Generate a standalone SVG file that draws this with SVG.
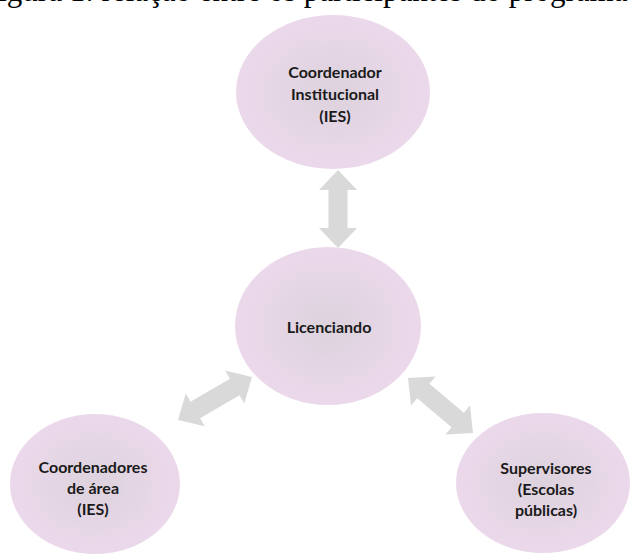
<svg xmlns="http://www.w3.org/2000/svg" width="632" height="556" viewBox="0 0 632 556">
<style>
.lbl{font-family:Lato,"Open Sans","Liberation Sans",sans-serif;font-weight:700;font-size:16px;fill:#1a1a1a;text-anchor:middle}
.cap{font-family:"Liberation Serif","Times New Roman",serif;font-size:31px;fill:#000}
.arr{fill:#d9d9d9}
</style>
<defs>
<radialGradient id="g" cx="50%" cy="50%" r="50%">
<stop offset="0%" stop-color="#ddd2dd"/>
<stop offset="100%" stop-color="#ebd9eb"/>
</radialGradient>
</defs>
<rect width="632" height="556" fill="#fff"/>
<text class="cap" x="-19" y="0.5">Figura 1: relação entre os participantes do programa</text>
<g id="connectors">
<polygon class="arr" transform="translate(338,170) rotate(90)" points="0,0 20,-19 20,-9.5 58,-9.5 58,-19 78,0 58,19 58,9.5 20,9.5 20,19"/>
<polygon class="arr" transform="translate(178,420) rotate(-30.2)" points="0,0 20,-19 20,-9.5 65.6,-9.5 65.6,-19 85.6,0 65.6,19 65.6,9.5 20,9.5 20,19"/>
<polygon class="arr" transform="translate(408,378) rotate(40.2)" points="0,0 20,-19 20,-9.5 65.1,-9.5 65.1,-19 85.1,0 65.1,19 65.1,9.5 20,9.5 20,19"/>
</g>
<g id="coordenador-institucional">
<ellipse cx="333" cy="92" rx="97" ry="77" fill="url(#g)"/>
<text class="lbl" x="335" y="78">Coordenador</text>
<text class="lbl" x="335" y="100">Institucional</text>
<text class="lbl" x="335" y="122">(IES)</text>
</g>
<g id="licenciando">
<ellipse cx="328" cy="326" rx="93" ry="79" fill="url(#g)"/>
<text class="lbl" x="329" y="333">Licenciando</text>
</g>
<g id="coordenadores-area">
<ellipse cx="95" cy="484" rx="85" ry="70" fill="url(#g)"/>
<text class="lbl" x="93" y="473">Coordenadores</text>
<text class="lbl" x="93" y="494">de área</text>
<text class="lbl" x="93" y="515">(IES)</text>
</g>
<g id="supervisores">
<ellipse cx="543" cy="483" rx="87" ry="70" fill="url(#g)"/>
<text class="lbl" x="546" y="474">Supervisores</text>
<text class="lbl" x="546" y="495">(Escolas</text>
<text class="lbl" x="546" y="516">públicas)</text>
</g>
</svg>
